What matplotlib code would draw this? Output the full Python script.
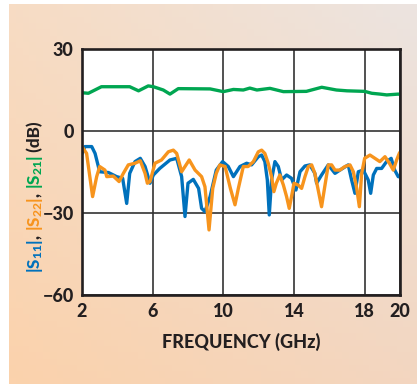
import numpy as np
import matplotlib
matplotlib.use("Agg")
import matplotlib.pyplot as plt

plt.rcParams['font.family'] = ['Lato', 'DejaVu Sans']
plt.rcParams['mathtext.fontset'] = 'custom'
plt.rcParams['mathtext.rm'] = 'Lato:black'
plt.rcParams['mathtext.default'] = 'rm'

# S11 (blue)
s11_f = [2.0, 2.17, 2.55, 2.74, 3.0, 3.5, 3.96, 4.3, 4.53, 4.7, 5.0, 5.3, 5.57, 5.85,
         6.04, 6.4, 6.98, 7.36, 7.64, 7.83, 8.0, 8.3, 8.6, 8.77, 8.96, 9.25, 9.6, 9.96,
         10.28, 10.57, 10.94, 11.32, 11.6, 11.98, 12.17, 12.35, 12.49, 12.6, 12.73, 12.92,
         13.11, 13.3, 13.58, 13.86, 14.11, 14.34, 14.62, 14.9, 15.18, 15.28, 15.56, 15.94,
         16.32, 16.6, 17.07, 17.26, 17.45, 17.64, 17.92, 18.2, 18.34, 18.49, 18.68, 18.96,
         19.24, 19.5, 19.7, 19.9, 20.0]
s11_db = [-8.2, -5.7, -5.7, -8.2, -14.9, -15.2, -16.7, -17.3, -26.5, -15.5, -11.2, -10.0,
          -13.0, -19.1, -16.1, -13.7, -10.6, -10.0, -16.7, -31.3, -19.1, -17.7, -21.0, -28.3,
          -29.5, -24.0, -14.3, -11.2, -13.0, -16.7, -13.0, -11.8, -12.4, -9.4, -8.8, -11.2,
          -17.9, -30.7, -17.9, -11.2, -13.0, -17.9, -16.1, -17.3, -21.6, -14.9, -12.8, -12.4,
          -15.5, -19.1, -16.1, -12.4, -15.5, -14.3, -12.4, -17.9, -22.8, -14.9, -14.3, -17.9,
          -22.8, -16.1, -13.7, -13.7, -11.2, -10.0, -14.3, -16.7, -16.8]

# S22 (orange)
s22_f = [2.0, 2.26, 2.6, 2.83, 3.0, 3.3, 3.4, 3.77, 4.1, 4.34, 4.62, 5.0, 5.3, 5.57, 5.7,
         5.85, 6.13, 6.5, 6.89, 7.17, 7.36, 7.64, 8.07, 8.4, 8.77, 8.96, 9.19, 9.4, 9.6,
         9.8, 10.1, 10.4, 10.66, 10.85, 11.13, 11.4, 11.7, 11.98, 12.17, 12.35, 12.54,
         12.73, 12.86, 13.0, 13.2, 13.4, 13.58, 13.73, 13.86, 14.0, 14.24, 14.43, 14.62,
         14.81, 15.0, 15.18, 15.37, 15.56, 15.75, 15.94, 16.13, 16.32, 16.6, 16.88, 17.17,
         17.36, 17.55, 17.7, 17.83, 18.0, 18.3, 18.58, 18.86, 19.15, 19.4, 19.62, 19.81, 19.96]
s22_db = [-5.7, -8.2, -24.0, -16.7, -13.0, -14.3, -16.7, -16.5, -18.5, -15.5, -12.4, -11.8,
          -10.9, -15.5, -19.1, -18.5, -11.8, -10.6, -7.6, -7.0, -8.2, -14.9, -10.6, -14.3,
          -16.7, -20.4, -36.2, -21.0, -15.5, -12.4, -13.0, -21.0, -27.0, -21.0, -13.0, -13.0,
          -11.2, -7.6, -7.0, -8.2, -11.8, -16.7, -22.2, -19.1, -16.1, -19.8, -24.0, -28.3,
          -24.0, -19.1, -19.8, -21.0, -16.7, -13.0, -12.4, -15.5, -21.6, -27.7, -20.0, -12.4,
          -12.4, -14.3, -14.3, -13.0, -12.4, -14.9, -21.0, -27.7, -15.5, -10.0, -8.8, -10.0,
          -11.2, -9.4, -11.8, -14.3, -10.6, -8.2]

# S21 (green)
s21_f = [2.0, 2.36, 3.1, 4.7, 5.2, 5.75, 6.04, 6.6, 6.98, 7.45, 9.25, 10.0, 10.57, 11.13,
         11.5, 11.9, 12.64, 13.4, 14.7, 15.57, 16.4, 17.0, 18.0, 18.4, 18.87, 19.25, 19.9, 20.0]
s21_db = [14.0, 13.8, 16.2, 16.2, 14.7, 16.5, 16.2, 15.0, 13.5, 15.5, 15.4, 14.4, 15.2, 15.0,
          15.7, 15.0, 15.6, 14.4, 14.5, 16.0, 15.0, 14.7, 14.5, 13.8, 13.5, 13.2, 13.5, 13.4]

x_ticks = [2, 6, 10, 14, 18, 20]
y_ticks = [30, 0, -30, -60]

BLUE = '#0071bc'
ORANGE = '#f7941d'
GREEN = '#00a651'
INK = '#231f20'
W = 'black'

fig = plt.figure(figsize=(4.17, 3.84), dpi=100)

# gradient background panel
bg = fig.add_axes([9 / 417, 0, 1 - 9 / 417, 1 - 4 / 384], zorder=-10)
tl = np.array([247, 220, 196]) / 255
tr = np.array([236, 228, 224]) / 255
bl = np.array([251, 210, 172]) / 255
br = np.array([243, 214, 192]) / 255
u = np.linspace(0, 1, 60)[None, :, None]
v = np.linspace(0, 1, 60)[:, None, None]
img = (1 - v) * ((1 - u) * tl + u * tr) + v * ((1 - u) * bl + u * br)
bg.imshow(img, aspect='auto', extent=[0, 1, 0, 1])
bg.axis('off')

ax = fig.add_axes([82 / 417, 1 - 295 / 384, 318 / 417, 246 / 384])
ax.plot(s21_f, s21_db, color=GREEN, lw=2.4, solid_joinstyle='round')
ax.plot(s11_f, s11_db, color=BLUE, lw=2.4, solid_joinstyle='round')
ax.plot(s22_f, s22_db, color=ORANGE, lw=2.4, solid_joinstyle='round')

ax.set_xlim(2, 20)
ax.set_ylim(-60, 30)
ax.set_xticks(x_ticks)
ax.set_yticks(y_ticks)
ax.set_yticklabels(['30', '0', '\u221230', '\u221260'])
ax.tick_params(length=0, labelsize=13, colors=INK, pad=6)
for lab in ax.get_xticklabels() + ax.get_yticklabels():
    lab.set_fontweight(W)
ax.grid(True, color='#333333', lw=1.2)
ax.set_axisbelow(True)
for sp in ax.spines.values():
    sp.set_color(INK)
    sp.set_linewidth(1.9)

ax.set_xlabel('FREQUENCY (GHz)', fontsize=13, fontweight=W, color=INK, labelpad=9)

# multi-coloured y label, stacked bottom to top
parts = [(r'|S$_{11}$|', BLUE), (', ', INK), (r'|S$_{22}$|', ORANGE), (', ', INK),
         (r'|S$_{21}$|', GREEN), (' (dB)', INK)]
fig.canvas.draw()
renderer = fig.canvas.get_renderer()
cur = 384 - 253 - 20
for s, c in parts:
    t = fig.text(35 / 417, cur / 384, s, rotation=90, color=c, fontsize=12.3,
                 fontweight=W, ha='center', va='bottom')
    cur += t.get_window_extent(renderer).height

fig.savefig('out.png', dpi=100)
